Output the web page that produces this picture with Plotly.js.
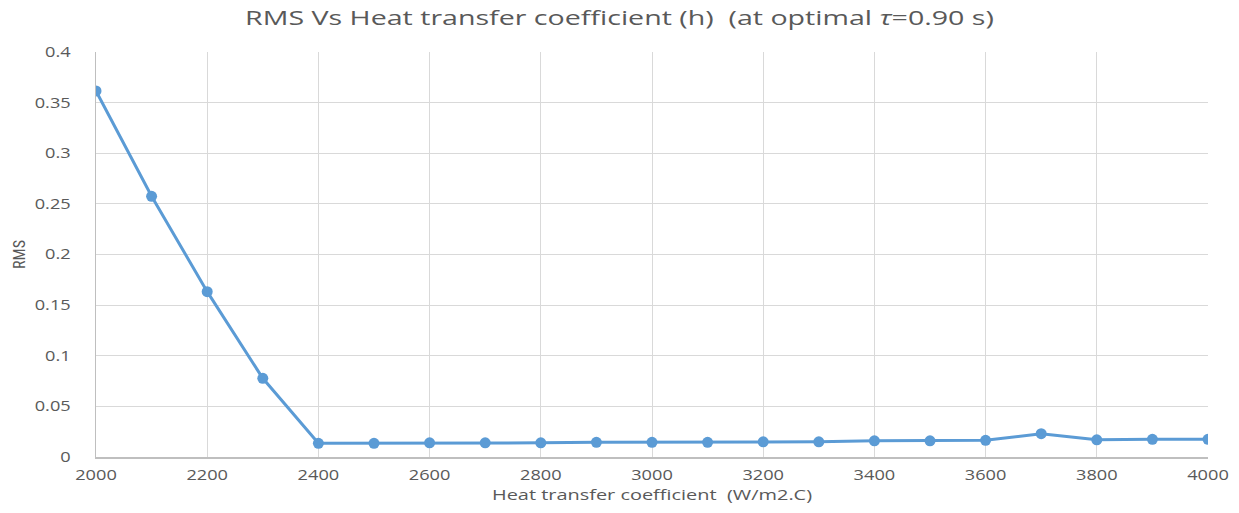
<!DOCTYPE html>
<html><head><meta charset="utf-8">
<script src="https://cdn.plot.ly/plotly-3.0.1.min.js"></script>
<style>html,body{margin:0;padding:0;background:#fff;}#chart{width:1239px;height:513px;}</style>
</head><body><div id="chart"></div>
<script>
const hValues = [2000,2100,2200,2300,2400,2500,2600,2700,2800,2900,3000,3100,3200,3300,3400,3500,3600,3700,3800,3900,4000];
const rmsValues = [0.3615,0.2575,0.1633,0.0777,0.0135,0.0135,0.014,0.014,0.014,0.0145,0.0145,0.0145,0.015,0.015,0.016,0.016,0.0165,0.023,0.017,0.0175,0.0175];
const xTicks = [2000,2200,2400,2600,2800,3000,3200,3400,3600,3800,4000];
const yTicks = [0,0.05,0.1,0.15,0.2,0.25,0.3,0.35,0.4];
const yTickText = ['0','0.05','0.1','0.15','0.2','0.25','0.3','0.35','0.4'];

const trace = {
  x: hValues, y: rmsValues, type: 'scatter', mode: 'lines+markers',
  line: {color: '#5B9BD5', width: 3},
  marker: {color: '#5B9BD5', size: 11},
  hoverinfo: 'x+y'
};
const layout = {
  width: 1239, height: 513,
  margin: {l: 96, r: 31, t: 52, b: 56},
  paper_bgcolor: '#fff', plot_bgcolor: '#fff',
  showlegend: false,
  font: {family: '"Open Sans", "DejaVu Sans", sans-serif', color: '#595959', size: 13},
  title: {text: 'RMS Vs Heat transfer coefficient (h)&nbsp;&nbsp;(at optimal <i>τ</i>=0.90 s)',
          x: 0.5, xanchor: 'center', y: 0.965, yanchor: 'middle',
          font: {family: '"Open Sans", sans-serif', size: 20, color: '#595959'}},
  xaxis: {
    range: [2000, 4000], tickvals: xTicks, ticktext: xTicks.map(String),
    showgrid: true, gridcolor: '#d9d9d9', gridwidth: 1,
    showline: true, linecolor: '#bfbfbf', linewidth: 1.5,
    zeroline: false, ticks: '', ticklabelstandoff: 5,
    tickfont: {size: 14, color: '#595959'},
    title: {text: 'Heat transfer coefficient&nbsp;&nbsp;(W/m2.C)', standoff: 6,
            font: {size: 15, color: '#595959'}}
  },
  yaxis: {
    range: [0, 0.4], tickvals: yTicks, ticktext: yTickText,
    showgrid: true, gridcolor: '#d9d9d9', gridwidth: 1,
    showline: true, linecolor: '#bfbfbf', linewidth: 1.5,
    zeroline: false, ticks: '', ticklabelstandoff: 21,
    tickfont: {size: 14, color: '#595959'},
    title: {text: 'RMS', standoff: 13,
            font: {family: '"Liberation Sans Narrow", "Roboto Condensed", "Liberation Sans", sans-serif', size: 16, color: '#595959'}}
  }
};

function stretchText(selector, s) {
  document.querySelectorAll(selector).forEach(function (t) {
    const ax = parseFloat(t.getAttribute('x')) || 0;
    const ex = t.getAttribute('transform') || '';
    t.setAttribute('transform', ex + ' translate(' + ax + ',0) scale(' + s + ',1) translate(' + (-ax) + ',0)');
  });
}

Plotly.newPlot('chart', [trace], layout, {displayModeBar: false, staticPlot: true}).then(function () {
  stretchText('#chart .gtitle', 1.43);
  stretchText('#chart .xtick text', 1.3);
  stretchText('#chart .ytick text', 1.3);
  stretchText('#chart .g-xtitle text', 1.33);
});
</script>
</body></html>
